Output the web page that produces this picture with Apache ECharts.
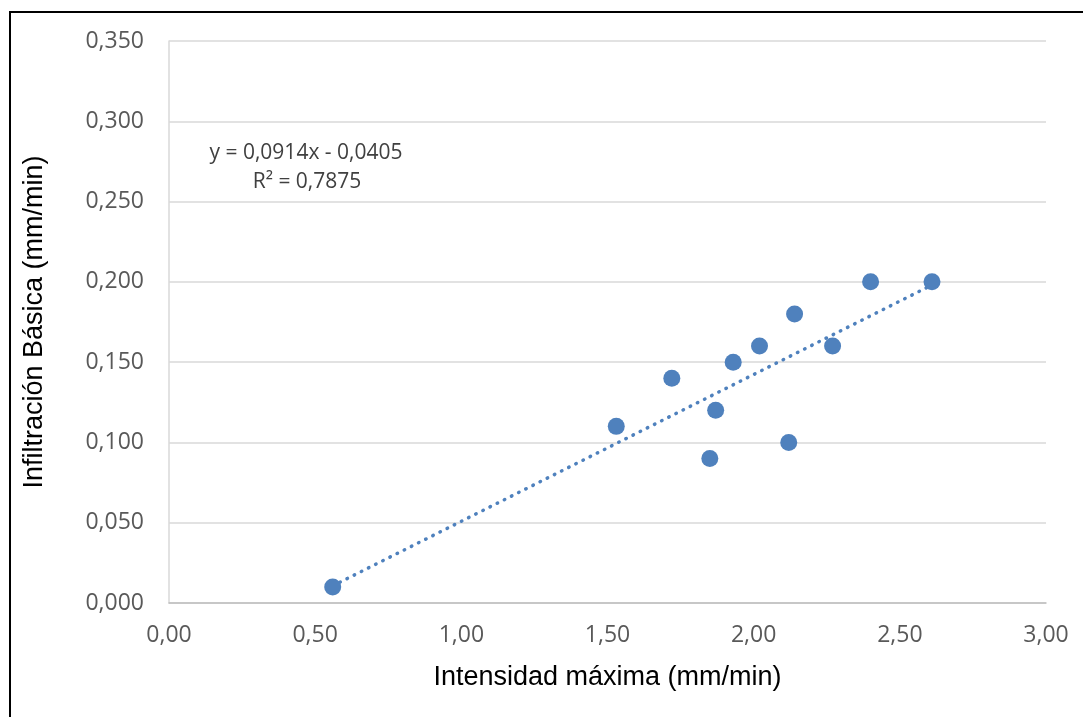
<!DOCTYPE html>
<html>
<head>
<meta charset="utf-8">
<script src="https://cdn.jsdelivr.net/npm/echarts@6/dist/echarts.min.js"></script>
<style>
  html, body { margin: 0; padding: 0; background: #fff; }
  #frame { position: absolute; left: 9px; top: 11px; width: 1100px; height: 720px;
           border-top: 2px solid #000; border-left: 2px solid #000; box-sizing: border-box; }
  #chart { position: absolute; left: 0; top: 0; width: 1083px; height: 717px; }
</style>
</head>
<body>
<div id="frame"></div>
<div id="chart"></div>
<script>
// intensidad máxima (mm/min) vs infiltración básica (mm/min)
const intensidad = [0.56, 1.53, 1.72, 1.85, 1.87, 1.93, 2.02, 2.12, 2.14, 2.27, 2.40, 2.61];
const infiltracion = [0.010, 0.110, 0.140, 0.090, 0.120, 0.150, 0.160, 0.100, 0.180, 0.160, 0.200, 0.200];

// trend line from the label
const slope = 0.0914;
const intercept = -0.0405;
const r2 = 0.7875;

const fmt = (v, d) => v.toFixed(d).replace('.', ',');

const points = intensidad.map((x, i) => [x, infiltracion[i]]);
const xMin = Math.min(...intensidad), xMax = Math.max(...intensidad);
const trend = [[xMin, slope * xMin + intercept], [xMax, slope * xMax + intercept]];

const chart = echarts.init(document.getElementById('chart'));
const tickFont = { color: '#595959', fontSize: 23, fontFamily: 'Open Sans' };
const titleFont = { color: '#000', fontSize: 27, fontFamily: 'Liberation Sans' };

chart.setOption({
  backgroundColor: 'transparent',
  animation: false,
  grid: { left: 169, right: 37, top: 41, bottom: 114 },
  xAxis: {
    type: 'value', min: 0, max: 3, interval: 0.5,
    name: 'Intensidad máxima (mm/min)', nameLocation: 'middle', nameGap: 61,
    nameTextStyle: titleFont,
    axisLine: { lineStyle: { color: '#bfbfbf', width: 1.5 } },
    axisTick: { show: false },
    splitLine: { show: false },
    axisLabel: Object.assign({ margin: 21, formatter: v => fmt(v, 2) }, tickFont)
  },
  yAxis: {
    type: 'value', min: 0, max: 0.35, interval: 0.05,
    name: 'Infiltración Básica (mm/min)', nameLocation: 'middle', nameGap: 121,
    nameTextStyle: titleFont,
    axisLine: { show: true, lineStyle: { color: '#d9d9d9', width: 1.5 } },
    axisTick: { show: false },
    splitLine: { lineStyle: { color: '#d9d9d9', width: 1.5 } },
    axisLabel: Object.assign({ margin: 25, formatter: v => fmt(v, 3) }, tickFont)
  },
  graphic: [{
    type: 'text', x: 306, y: 153,
    style: { text: 'y = ' + fmt(slope, 4) + 'x - ' + fmt(-intercept, 4), fill: '#404040',
             font: '21px "Open Sans"', align: 'center', verticalAlign: 'middle' }
  }, {
    type: 'text', x: 307, y: 182,
    style: { text: 'R² = ' + fmt(r2, 4), fill: '#404040',
             font: '21px "Open Sans"', align: 'center', verticalAlign: 'middle' }
  }],
  series: [{
    type: 'line', data: trend, symbol: 'none', silent: true, z: 1,
    lineStyle: { color: '#4f81bd', width: 3.5, type: [0.5, 7.5], cap: 'round' }
  }, {
    type: 'scatter', data: points, symbolSize: 17, z: 2,
    itemStyle: { color: '#4f81bd', opacity: 1 }
  }]
});
</script>
</body>
</html>
